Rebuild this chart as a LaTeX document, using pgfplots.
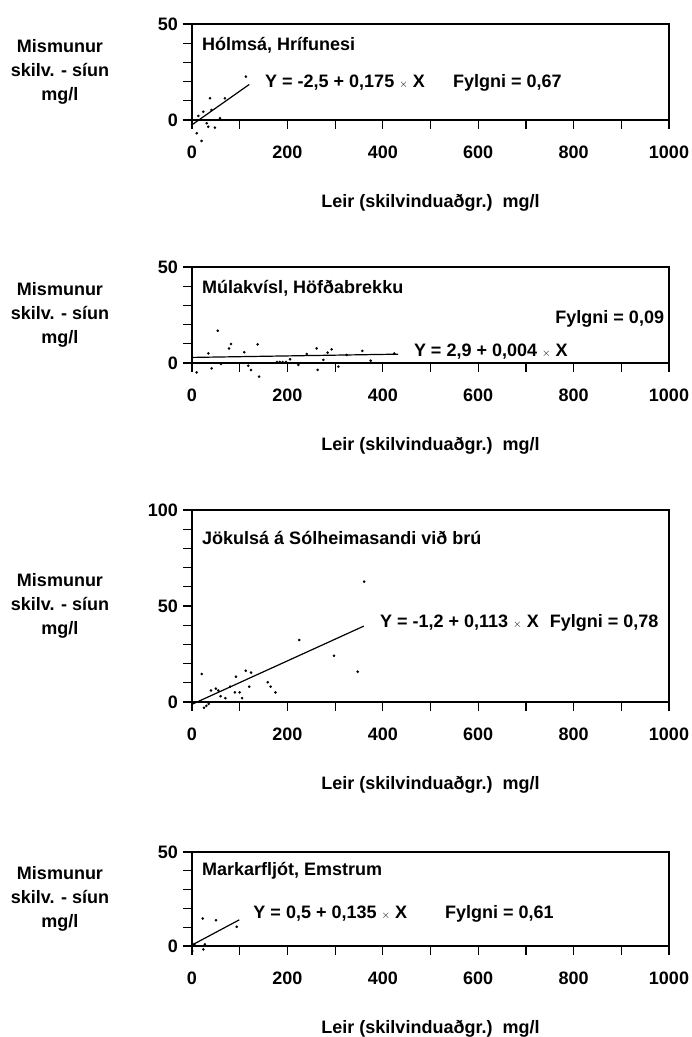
\documentclass[border=0pt]{standalone}
\usepackage{fontspec}
\setmainfont{Liberation Sans}
\usepackage{pgfplots}
\pgfplotsset{compat=1.18}

\newcommand{\tx}{{\fontsize{11}{11}\selectfont$\times$}}
\newcommand{\ylab}{Mismunur\\skilv. - síun\\mg/l}
\newcommand{\xlab}{Leir (skilvinduaðgr.)\ \ mg/l}

\pgfplotsset{
  panel/.style={
    scale only axis, width=477pt, clip=false,
    anchor=south west,
    xmin=0, xmax=1000, ymin=0,
    axis line style={line width=1.2pt},
    xtick={0,200,...,1000}, minor xtick={100,300,...,900},
    tick align=outside, xtick pos=bottom, ytick pos=left,
    major tick length=9pt, minor tick length=9pt,
    every tick/.style={line width=1.2pt, black},
    every minor tick/.style={line width=1.2pt, black},
    tick label style={font=\fontsize{18}{22}\selectfont\bfseries, inner sep=0pt},
    xticklabel style={yshift=-17pt},
    yticklabel style={xshift=-5pt},
    /pgf/number format/assume math mode=true,
    /pgf/number format/1000 sep={},
  },
  dots/.style={only marks, mark=*, mark size=1.1pt, black},
  fit/.style={line width=1.2pt, black, no marks},
}

\begin{document}
\begin{tikzpicture}[font=\fontsize{18}{24}\selectfont\bfseries]
\path[use as bounding box] (0,0) rectangle (692pt,1037pt);

% Holmsa
\begin{axis}[panel, at={(192pt,917pt)}, height=96pt, ymax=50,
  ytick={0,50}, minor ytick={10,20,30,40}]
\addplot[dots] coordinates {
 (37.7,11.3) (69,11.3) (23.8,4.3) (13.3,2.1) (41,5.2) (58.7,0.9)
 (30.7,-1.7) (34,-3.5) (48,-4) (9.8,-6.9) (20,-10.9) (113,22.6)
};
\addplot[fit] coordinates {(0,-2.5) (120,18.5)};
\node[anchor=west, inner sep=0pt] at (axis cs:21,39) {Hólmsá, Hrífunesi};
\node[anchor=west, inner sep=0pt] at (axis cs:153,19.3) {Y = -2,5 + 0,175 \tx{} X};
\node[anchor=west, inner sep=0pt] at (axis cs:547,19.3) {Fylgni = 0,67};
\node[align=center] at (rel axis cs:0,0.5) [xshift=-132pt] {\ylab};
\node at (rel axis cs:0.5,0) [yshift=-83pt] {\xlab};
\end{axis}

% Mulakvisl
\begin{axis}[panel, at={(192pt,674pt)}, height=96pt, ymax=50,
  ytick={0,50}, minor ytick={10,20,30,40}]
\addplot[dots] coordinates {
 (53.8,16.8) (34.3,5.0) (81.8,9.9) (77.6,7.6) (109.7,5.6) (137.7,9.7)
 (9.8,-4.9) (41.2,-2.8) (118,-1.4) (123.7,-3.6) (140.5,-7.1)
 (178,0.5) (184,0.5) (190,0.5) (197,0.5) (205.5,1.9) (223,-1)
 (240.4,4.7) (261.4,7.6) (263.5,-3.6) (275.4,1.6) (284.4,5.4)
 (292.8,7.1) (306.8,-1.9) (324.3,4.2) (357,6.3) (374.6,1.2)
 (424,5.0) (60.8,-0.5)
};
\addplot[fit] coordinates {(0,2.9) (432,4.6)};
\node[anchor=west, inner sep=0pt] at (axis cs:21,39) {Múlakvísl, Höfðabrekku};
\node[anchor=east, inner sep=0pt] at (axis cs:990,23) {Fylgni = 0,09};
\node[anchor=west, inner sep=0pt] at (axis cs:465,5.7) {Y = 2,9 + 0,004 \tx{} X};
\node[align=center] at (rel axis cs:0,0.5) [xshift=-132pt] {\ylab};
\node at (rel axis cs:0.5,0) [yshift=-83pt] {\xlab};
\end{axis}

% Jokulsa
\begin{axis}[panel, at={(192pt,335pt)}, height=192pt, ymax=100,
  ytick={0,50,100}, minor ytick={10,20,30,40,60,70,80,90}]
\addplot[dots] coordinates {
 (361,62.7) (225,32.3) (297.7,24.1) (347.4,15.8) (20.3,14.6)
 (92.2,13.2) (112.6,16.3) (123.7,15.3) (158.7,10.3)
 (25,-3) (30,-2) (35,-1) (40,6) (50,7) (55,6) (60,3) (70,2)
 (80,8) (90,5) (100,5) (105,2) (120,8) (165,8) (175,5)
};
\addplot[fit] coordinates {(0,-1.2) (360,39.5)};
\node[anchor=west, inner sep=0pt] at (axis cs:21,85.4) {Jökulsá á Sólheimasandi við brú};
\node[anchor=west, inner sep=0pt] at (axis cs:394,41.1) {Y = -1,2 + 0,113 \tx{} X\hspace{11pt}Fylgni = 0,78};
\node[align=center] at (rel axis cs:0,0.5) [xshift=-132pt] {\ylab};
\node at (rel axis cs:0.5,0) [yshift=-83pt] {\xlab};
\end{axis}

% Markarfljot
\begin{axis}[panel, at={(192pt,91pt)}, height=94pt, ymax=50,
  ytick={0,50}, minor ytick={10,20,30,40}]
\addplot[dots] coordinates {
 (22.4,14.6) (50.3,13.7) (93.7,10.2) (0.5,-2.7) (23.8,-1.8) (27,0.9) (5,1)
};
\addplot[fit] coordinates {(0,0.5) (99,13.9)};
\node[anchor=west, inner sep=0pt] at (axis cs:21,40) {Markarfljót, Emstrum};
\node[anchor=west, inner sep=0pt] at (axis cs:128.5,17) {Y = 0,5 + 0,135 \tx{} X};
\node[anchor=west, inner sep=0pt] at (axis cs:530,17) {Fylgni = 0,61};
\node[align=center] at (rel axis cs:0,0.5) [xshift=-132pt] {\ylab};
\node at (rel axis cs:0.5,0) [yshift=-83pt] {\xlab};
\end{axis}
\end{tikzpicture}
\end{document}
